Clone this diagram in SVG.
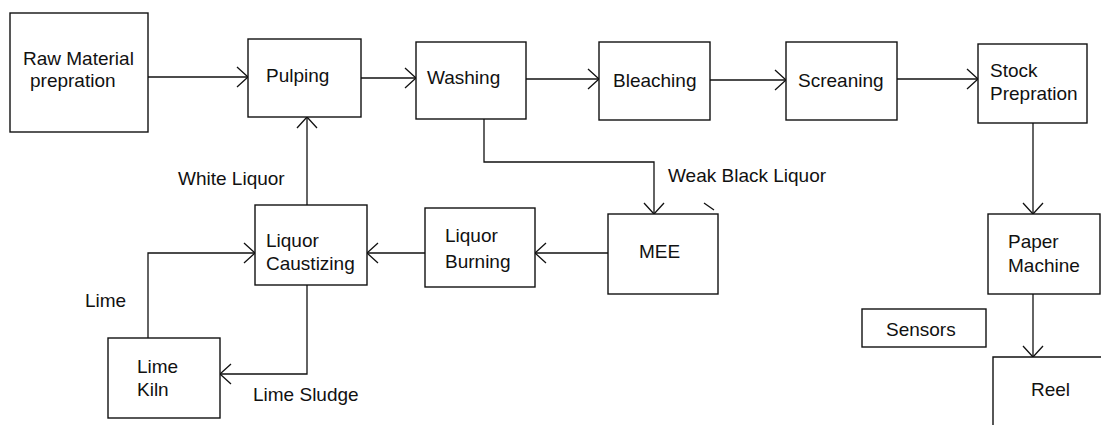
<svg xmlns="http://www.w3.org/2000/svg" width="1101" height="425" viewBox="0 0 1101 425">
<style>
.box{fill:#fff;stroke:#111;stroke-width:1.4}
.t{font-family:"Liberation Sans",Arial,sans-serif;font-size:19px;fill:#111}
.c{fill:none;stroke:#111;stroke-width:1.3}
</style>
<defs>
<marker id="ah" markerUnits="userSpaceOnUse" markerWidth="14" markerHeight="24" refX="12" refY="11" orient="auto" viewBox="0 0 14 24">
<path d="M1,1 L12,11 L1,21" fill="none" stroke="#111" stroke-width="1.3"/>
</marker>
</defs>
<rect width="1101" height="425" fill="#fff"/>
<g id="connectors">
<path class="c" d="M148,77 H248" marker-end="url(#ah)"/>
<path class="c" d="M361,78 H416" marker-end="url(#ah)"/>
<path class="c" d="M526,79 H599" marker-end="url(#ah)"/>
<path class="c" d="M710,80 H786" marker-end="url(#ah)"/>
<path class="c" d="M897,79 H978" marker-end="url(#ah)"/>
<path class="c" d="M1033,123 V214" marker-end="url(#ah)"/>
<path class="c" d="M1033,294 V357" marker-end="url(#ah)"/>
<path class="c" d="M484,119 V162 H654 V214" marker-end="url(#ah)"/>
<path class="c" d="M608,253 H535" marker-end="url(#ah)"/>
<path class="c" d="M425,253 H367" marker-end="url(#ah)"/>
<path class="c" d="M307,205 V117" marker-end="url(#ah)"/>
<path class="c" d="M148,338 V253 H255" marker-end="url(#ah)"/>
<path class="c" d="M307,285 V374 H220" marker-end="url(#ah)"/>
<path class="c" d="M704,203 L714,210" stroke-width="1"/>
</g>
<g id="raw"><rect class="box" x="10" y="13" width="138" height="119"/><text class="t" x="23" y="65">Raw Material</text><text class="t" x="30" y="87">prepration</text></g>
<g id="pulping"><rect class="box" x="248" y="39" width="113" height="78"/><text class="t" x="266" y="82">Pulping</text></g>
<g id="washing"><rect class="box" x="416" y="42" width="110" height="77"/><text class="t" x="427" y="84">Washing</text></g>
<g id="bleaching"><rect class="box" x="599" y="42" width="111" height="78"/><text class="t" x="613" y="87">Bleaching</text></g>
<g id="screaning"><rect class="box" x="786" y="42" width="111" height="78"/><text class="t" x="798" y="87">Screaning</text></g>
<g id="stock"><rect class="box" x="978" y="44" width="109" height="79"/><text class="t" x="990" y="77">Stock</text><text class="t" x="990" y="100">Prepration</text></g>
<g id="paper"><rect class="box" x="988" y="214" width="112" height="80"/><text class="t" x="1008" y="248">Paper</text><text class="t" x="1008" y="272">Machine</text></g>
<g id="sensors"><rect class="box" x="862" y="309" width="124" height="38"/><text class="t" x="886" y="336">Sensors</text></g>
<g id="reel"><path class="box" d="M993,430 V357 H1103" fill="#fff"/><text class="t" x="1031" y="396">Reel</text></g>
<g id="mee"><rect class="box" x="608" y="214" width="110" height="80"/><text class="t" x="639" y="258">MEE</text></g>
<g id="burning"><rect class="box" x="425" y="208" width="110" height="79"/><text class="t" x="445" y="242">Liquor</text><text class="t" x="445" y="268">Burning</text></g>
<g id="caustizing"><rect class="box" x="255" y="205" width="112" height="80"/><text class="t" x="266" y="247">Liquor</text><text class="t" x="266" y="270">Caustizing</text></g>
<g id="kiln"><rect class="box" x="108" y="338" width="112" height="80"/><text class="t" x="137" y="373">Lime</text><text class="t" x="137" y="396">Kiln</text></g>
<g id="labels">
<text class="t" x="178" y="185">White Liquor</text>
<text class="t" x="668" y="182">Weak Black Liquor</text>
<text class="t" x="85" y="307">Lime</text>
<text class="t" x="253" y="401">Lime Sludge</text>
</g>
</svg>
